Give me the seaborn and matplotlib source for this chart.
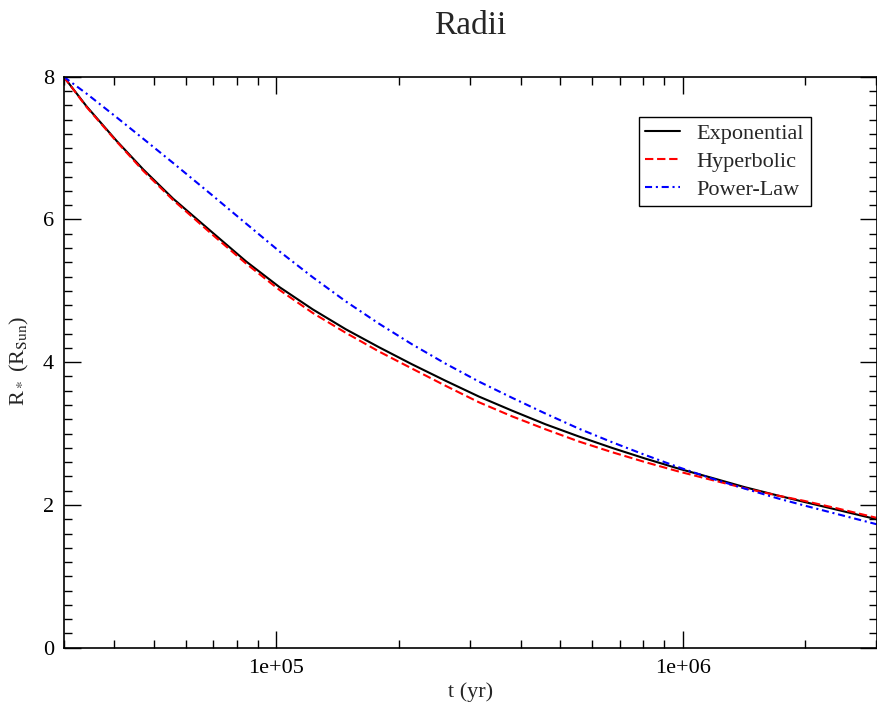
import numpy as np
import pandas as pd
import matplotlib
matplotlib.use("Agg")
import matplotlib.pyplot as plt
import matplotlib.ticker as mticker
import seaborn as sns

# ---- data ----
t_yr = [3.0e4, 3.42e4, 4.05e4, 4.71e4, 5.58e4, 6.99e4, 8.44e4, 1.02e5, 1.23e5,
        1.485e5, 1.79e5, 2.16e5, 2.61e5, 3.15e5, 3.81e5, 4.60e5, 5.55e5, 6.70e5,
        8.09e5, 9.76e5, 1.18e6, 1.42e6, 1.72e6, 2.0e6, 2.41e6, 3.0e6]
r_exponential = [8.00, 7.58, 7.10, 6.70, 6.29, 5.81, 5.41, 5.05, 4.74, 4.46, 4.21,
                 3.97, 3.74, 3.52, 3.32, 3.13, 2.96, 2.80, 2.65, 2.51, 2.38, 2.25,
                 2.13, 2.04, 1.93, 1.80]
r_hyperbolic = [8.00, 7.57, 7.09, 6.68, 6.27, 5.78, 5.38, 5.01, 4.69, 4.41, 4.15,
                3.91, 3.67, 3.44, 3.24, 3.06, 2.89, 2.74, 2.60, 2.47, 2.35, 2.235,
                2.13, 2.055, 1.95, 1.82]
r_powerlaw = [8.00, 7.76, 7.43, 7.13, 6.79, 6.33, 5.94, 5.55, 5.19, 4.85, 4.54,
              4.25, 3.98, 3.73, 3.50, 3.28, 3.07, 2.88, 2.70, 2.53, 2.37, 2.23,
              2.09, 1.99, 1.87, 1.73]
series_names = ["Exponential", "Hyperbolic", "Power-Law"]
series_colors = ["#000000", "#ff0000", "#0000ff"]
x_major_ticks = [1e5, 1e6]
x_major_labels = ["1e+05", "1e+06"]
y_major_ticks = [0, 2, 4, 6, 8]

df = pd.DataFrame({
    "t": t_yr * 3,
    "R": r_exponential + r_hyperbolic + r_powerlaw,
    "model": sum([[n] * len(t_yr) for n in series_names], []),
})

sns.set_style("ticks")
plt.rcParams["font.family"] = ["Liberation Serif", "DejaVu Serif"]
plt.rcParams["mathtext.fontset"] = "stix"

W, H = 877, 704
fig = plt.figure(figsize=(W / 100, H / 100), dpi=100)
ax = fig.add_axes([63.7 / W, 1 - 647.7 / H, (876.5 - 63.7) / W, (647.7 - 76.7) / H])

sns.lineplot(data=df, x="t", y="R", hue="model", style="model",
             palette=dict(zip(series_names, series_colors)),
             dashes={"Exponential": "", "Hyperbolic": (4, 1.8),
                     "Power-Law": (3.4, 1.8, 1.0, 1.8)},
             linewidth=1.5, errorbar=None, ax=ax, legend=True)

ax.set_xscale("log")
ax.set_xlim(3e4, 3e6)
ax.set_ylim(0, 8)
ax.xaxis.set_major_locator(mticker.FixedLocator(x_major_ticks))
ax.xaxis.set_major_formatter(mticker.FixedFormatter(x_major_labels))
ax.xaxis.set_minor_locator(mticker.LogLocator(base=10, subs=np.arange(2, 10), numticks=20))
ax.xaxis.set_minor_formatter(mticker.NullFormatter())
ax.yaxis.set_major_locator(mticker.FixedLocator(y_major_ticks))
ax.yaxis.set_major_formatter(mticker.FormatStrFormatter("%d"))
ax.yaxis.set_minor_locator(mticker.MultipleLocator(0.2))

for s in ax.spines.values():
    s.set_visible(True)
    s.set_linewidth(1.2)
    s.set_color("black")

ax.tick_params(which="both", direction="in", top=True, right=True,
               color="black", width=1.0, labelsize=16, labelcolor="black")
ax.tick_params(which="major", length=12)
ax.tick_params(which="minor", length=6)
ax.tick_params(axis="x", which="major", pad=8)
ax.tick_params(axis="y", which="major", pad=7)

ax.set_xlabel("t (yr)", fontsize=16, labelpad=3)
ax.set_ylabel(r"R$_*$ (R$_{\mathrm{Sun}}$)", fontsize=16)
ax.yaxis.set_label_coords(-0.040, 0.502)
ax.set_title("Radii", fontsize=24, pad=31)

leg = ax.legend(loc="upper right", bbox_to_anchor=(810.7 / W, 1 - 116.7 / H),
                bbox_transform=fig.transFigure, borderaxespad=0,
                fontsize=16, frameon=True, fancybox=False, framealpha=1,
                edgecolor="black", handlelength=1.55, handletextpad=0.75,
                labelspacing=0.33, borderpad=0.3, title=None)
leg.get_frame().set_linewidth(1.0)
for line in leg.get_lines():
    line.set_linewidth(1.5)

fig.savefig("out.png", dpi=100)
